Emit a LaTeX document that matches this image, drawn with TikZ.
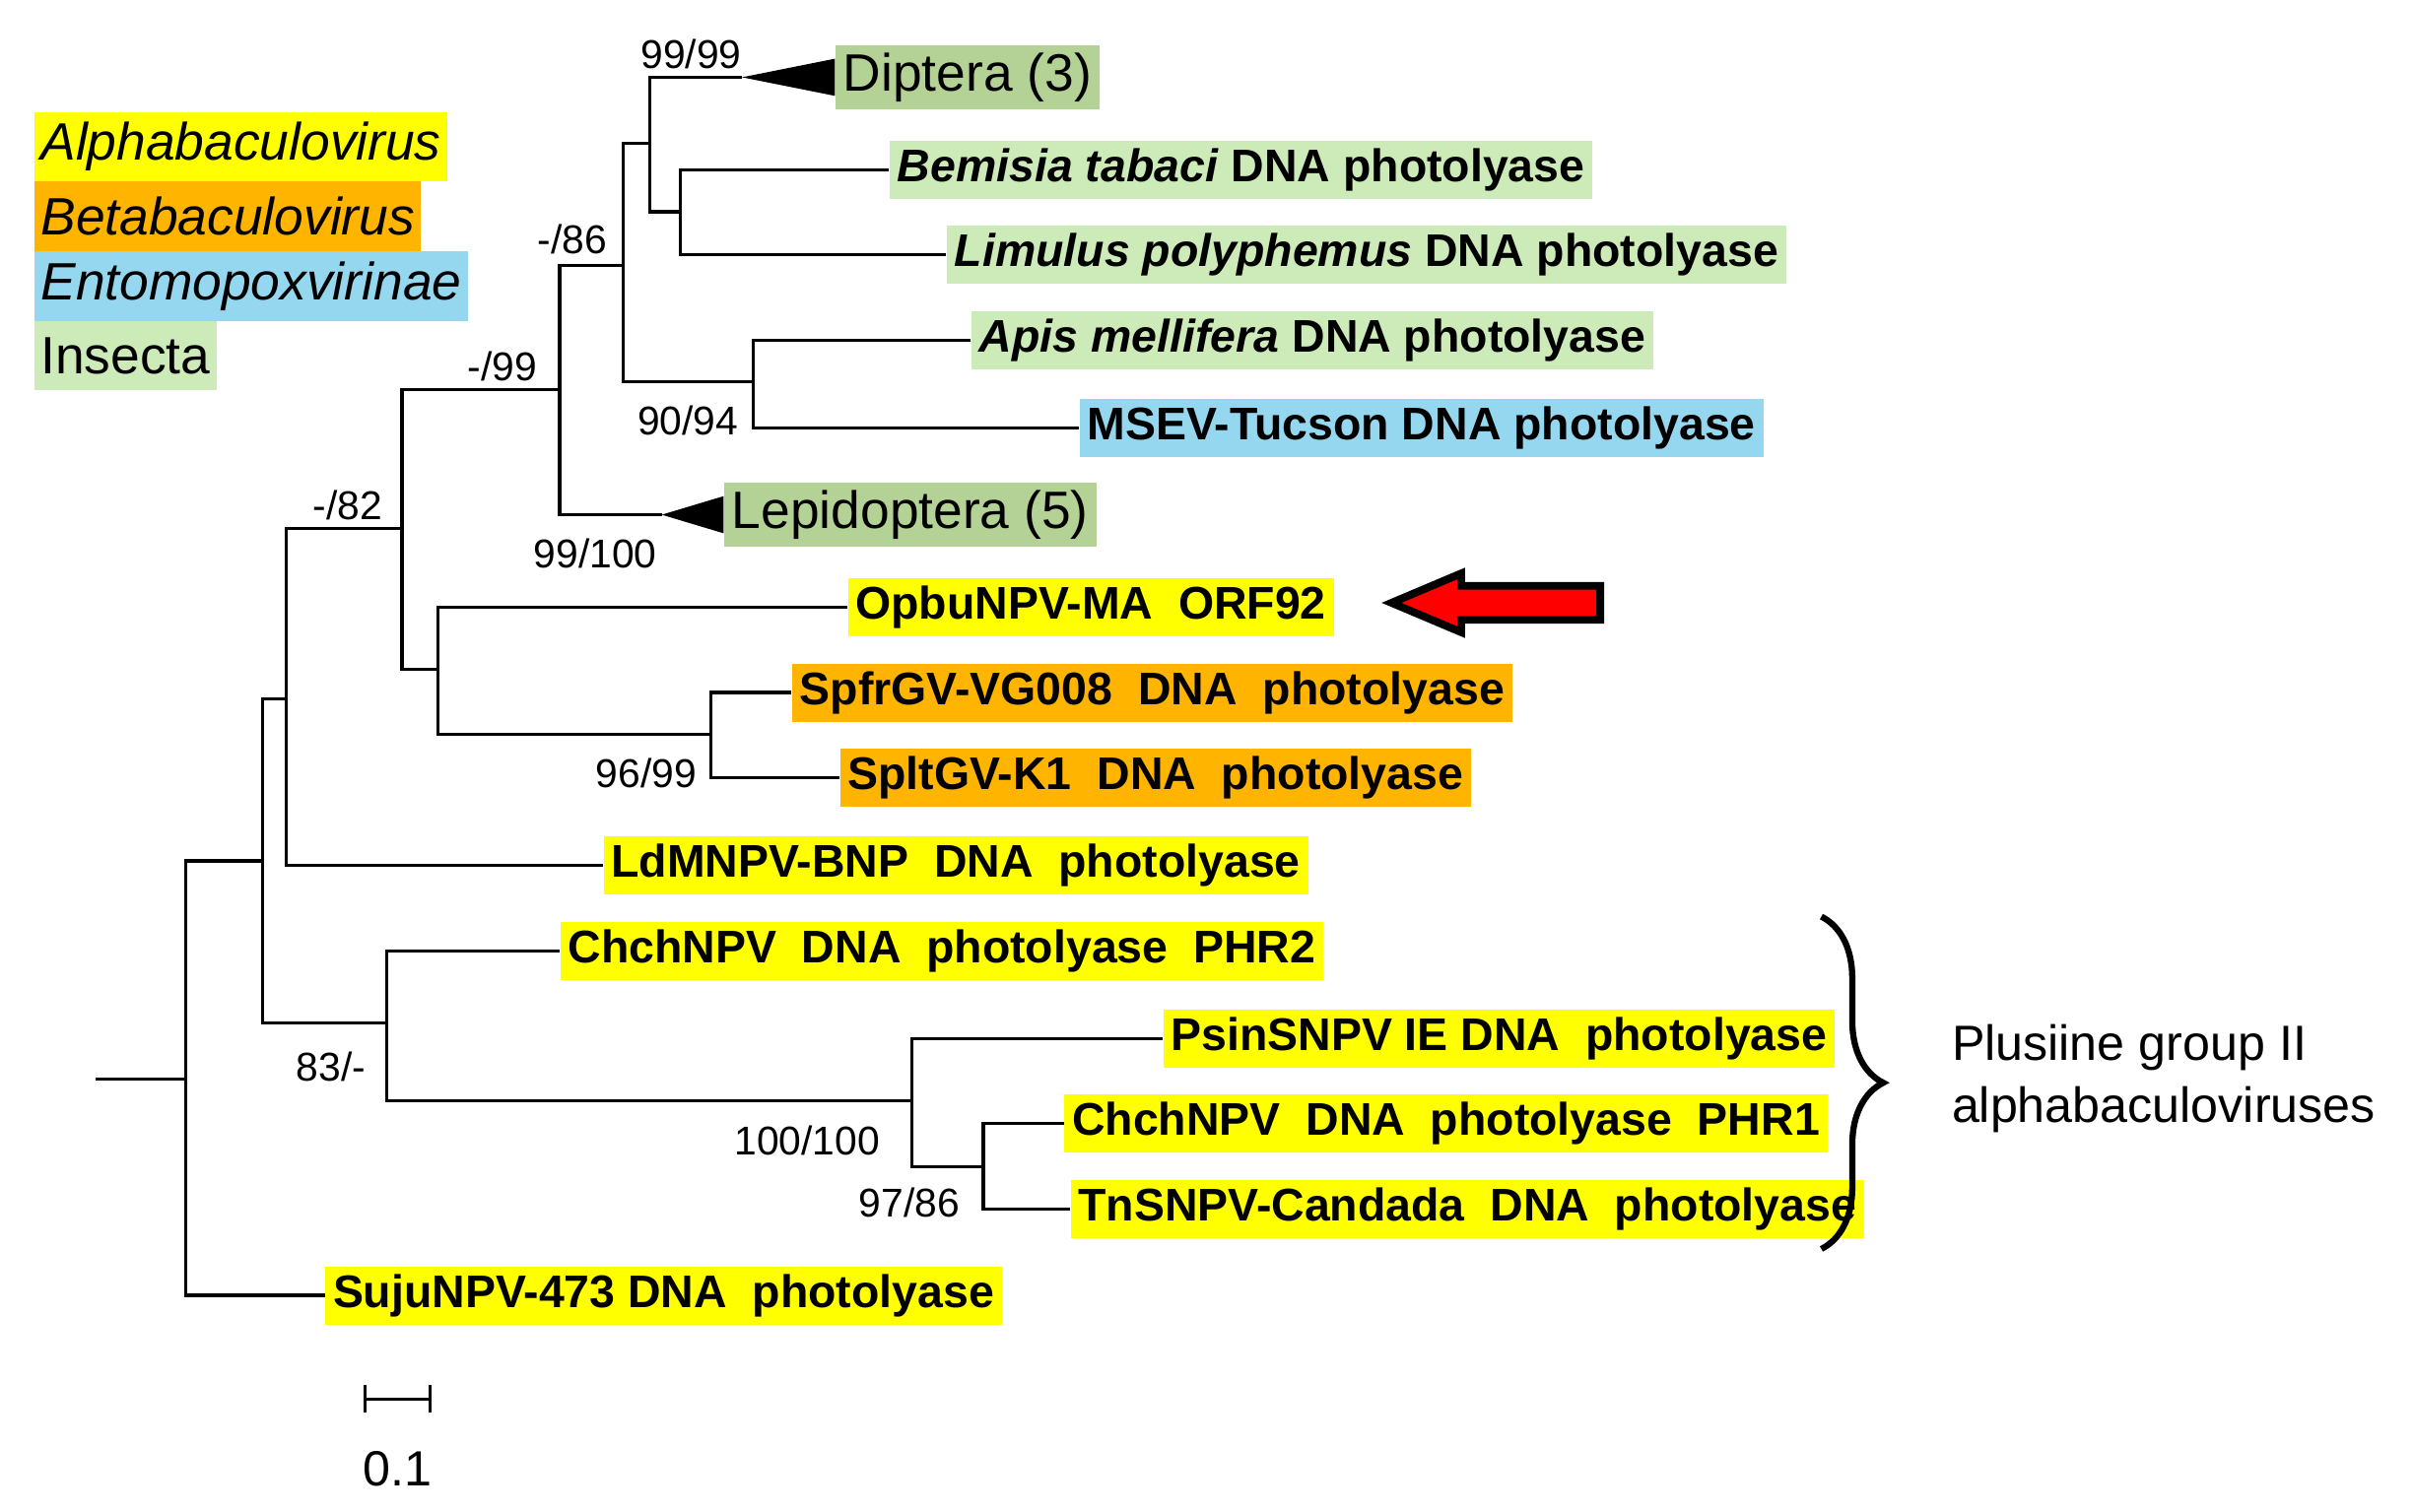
\documentclass[tikz,border=0pt]{standalone}
\usepackage{fontspec}
\setmainfont{Liberation Sans}
\usetikzlibrary{decorations.pathreplacing}
\definecolor{alpha}{RGB}{255,255,0}
\definecolor{beta}{RGB}{255,180,0}
\definecolor{ento}{RGB}{150,215,240}
\definecolor{insect}{RGB}{205,235,185}
\definecolor{clade}{RGB}{180,210,150}
\tikzset{
  leaf/.style={anchor=west,inner sep=2.5pt,font=\fontsize{14.8}{16}\selectfont\bfseries},
  boot/.style={inner sep=1pt,font=\fontsize{13}{15}\selectfont},
  legend/.style={anchor=west,inner sep=2pt,minimum height=22.5pt,font=\fontsize{17}{19}\selectfont},
  branch/.style={line width=1pt}
}
\begin{document}
\begin{tikzpicture}[x=0.5pt,y=0.5pt,yscale=-1,xscale=1]
\useasboundingbox (0,0) rectangle (1560,978);

% internal nodes
\coordinate (root) at (62,698);
\coordinate (n1) at (120,698);
\coordinate (n2) at (170,557);
\coordinate (n3) at (185,452);
\coordinate (n4) at (260,342);
\coordinate (n5) at (362,252);
\coordinate (n6) at (403,172);
\coordinate (n7) at (420,93);
\coordinate (n8) at (440,137);
\coordinate (n9) at (487,247);
\coordinate (n10) at (283,433);
\coordinate (n11) at (460,475);
\coordinate (n12) at (250,662);
\coordinate (n13) at (590,712);
\coordinate (n14) at (636,755);
\coordinate (dip) at (480,50);
\coordinate (lep) at (428,333);

% leaves
\node[leaf,fill=clade,font=\fontsize{17}{19}\selectfont] (diptera) at (540,50) {Diptera (3)};
\node[leaf,fill=insect] (bemisia) at (575,110) {\textit{Bemisia tabaci} DNA photolyase};
\node[leaf,fill=insect] (limulus) at (612,165) {\textit{Limulus polyphemus} DNA photolyase};
\node[leaf,fill=insect] (apis) at (628,220) {\textit{Apis mellifera} DNA photolyase};
\node[leaf,fill=ento] (msev) at (698,277) {MSEV-Tucson DNA photolyase};
\node[leaf,fill=clade,font=\fontsize{17}{19}\selectfont] (lepid) at (468,333) {Lepidoptera (5)};
\node[leaf,fill=alpha] (opbu) at (548,393) {OpbuNPV-MA\ \ ORF92};
\node[leaf,fill=beta] (spfr) at (512,448) {SpfrGV-VG008\ \ DNA\ \ photolyase};
\node[leaf,fill=beta] (splt) at (543,503) {SpltGV-K1\ \ DNA\ \ photolyase};
\node[leaf,fill=alpha] (ldm) at (390,560) {LdMNPV-BNP\ \ DNA\ \ photolyase};
\node[leaf,fill=alpha] (phr2) at (362,615) {ChchNPV\ \ DNA\ \ photolyase\ \ PHR2};
\node[leaf,fill=alpha] (psin) at (752,672) {PsinSNPV IE DNA\ \ photolyase};
\node[leaf,fill=alpha] (phr1) at (688,727) {ChchNPV\ \ DNA\ \ photolyase\ \ PHR1};
\node[leaf,fill=alpha] (tns) at (692,782) {TnSNPV-Candada\ \ DNA\ \ photolyase};
\node[leaf,fill=alpha] (suju) at (210,838) {SujuNPV-473 DNA\ \ photolyase};

% branches
\draw[branch] (root) -- (n1);
\draw[branch] (n2) -| (n1) |- (suju.west);
\draw[branch] (n3) -| (n2) |- (n12);
\draw[branch] (n4) -| (n3) |- (ldm.west);
\draw[branch] (n5) -| (n4) |- (n10);
\draw[branch] (n6) -| (n5) |- (lep);
\draw[branch] (n7) -| (n6) |- (n9);
\draw[branch] (dip) -| (n7) |- (n8);
\draw[branch] (bemisia.west) -| (n8) |- (limulus.west);
\draw[branch] (apis.west) -| (n9) |- (msev.west);
\draw[branch] (opbu.west) -| (n10) |- (n11);
\draw[branch] (spfr.west) -| (n11) |- (splt.west);
\draw[branch] (phr2.west) -| (n12) |- (n13);
\draw[branch] (psin.west) -| (n13) |- (n14);
\draw[branch] (phr1.west) -| (n14) |- (tns.west);
% collapsed clades
\fill (dip) -- (diptera.west |- 0,38) -- (diptera.west |- 0,62) -- cycle;
\fill (lep) -- (lepid.west |- 0,321) -- (lepid.west |- 0,345) -- cycle;

% support values
\node[boot] at (447,35) {99/99};
\node[boot] at (370,155) {-/86};
\node[boot] at (325,237) {-/99};
\node[boot] at (225,327) {-/82};
\node[boot] at (445,272) {90/94};
\node[boot] at (385,358) {99/100};
\node[boot] at (418,500) {96/99};
\node[boot] at (214,690) {83/-};
\node[boot] at (522,738) {100/100};
\node[boot] at (588,778) {97/86};

% arrow
\draw[line width=2.5pt,fill=red] (900,390) -- (945,371) -- (945,379) -- (1035,379)
  -- (1035,401) -- (945,401) -- (945,409) -- cycle;

% bracket
\draw[line width=2pt,decorate,decoration={brace,amplitude=20pt}]
  (1178,593) -- (1178,808);
\node[anchor=west,align=left,inner sep=0pt,font=\fontsize{16}{20}\selectfont]
  (plus) at (1262,698) {Plusiine group II\\alphabaculoviruses};

% legend
\node[legend,fill=alpha] (la) at (22,95) {\textit{Alphabaculovirus}};
\node[legend,fill=beta] (lb) at (22,140) {\textit{Betabaculovirus}};
\node[legend,fill=ento] (le) at (22,185) {\textit{Entomopoxvirinae}};
\node[legend,fill=insect] (li) at (22,230) {Insecta};

% scale bar
\draw[branch] (236,905) -- (278,905);
\draw[branch] (236,896) -- (236,914);
\draw[branch] (278,896) -- (278,914);
\node[font=\fontsize{16}{18}\selectfont] (sc) at (257,950) {0.1};
\end{tikzpicture}
\end{document}
